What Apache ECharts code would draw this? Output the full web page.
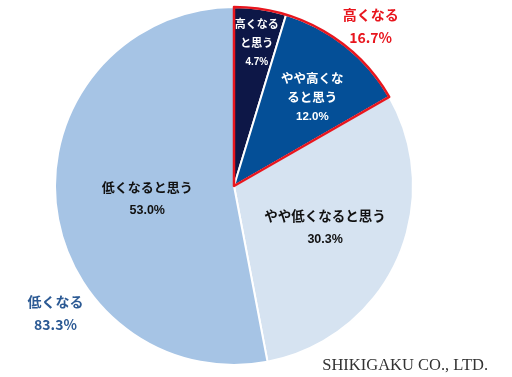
<!DOCTYPE html>
<html><head><meta charset="utf-8">
<script src="https://cdn.jsdelivr.net/npm/echarts@6/dist/echarts.min.js"></script>
<style>html,body{margin:0;padding:0;background:#fff}#c{width:512px;height:377px}</style>
</head><body><div id="c"></div>
<script>
// Data
const categories = ['高くなると思う', 'やや高くなると思う', 'やや低くなると思う', '低くなると思う'];
const labelNames = ['高くなる\nと思う', 'やや高くな\nると思う', 'やや低くなると思う', '低くなると思う'];
const values = [4.7, 12.0, 30.3, 53.0];
const groupNames = ['高くなる', '低くなる'];
const groupValues = [16.7, 83.3];

// Style
const sliceColors = ['#0d1747', '#044f97', '#d6e3f1', '#a6c4e5'];
const labelColors = ['#ffffff', '#ffffff', '#111111', '#111111'];
const labelRadiusFrac = [0.81, 0.66, 0.56, 0.49];
const labelAngleShift = [0.6, 3, 0, -3];
const labelLineHeights = [19, 19.5, 24, 23];
const nameSizes = [11, 12.5, 13.5, 13];
const pctSizes = [10, 11.5, 12.5, 12.5];
const groupColors = ['#e8161e', '#2c5a94'];
const groupLabelPolar = [[40.6, 210], [234.6, 219]];
const CX = 234, CY = 186, R = 179;

function midAngles(vals) {
  const tot = vals.reduce((a, b) => a + b, 0);
  let acc = 0;
  return vals.map(v => { const m = (acc + v / 2) / tot * 360; acc += v; return m; });
}
const mids = midAngles(values);

const chart = echarts.init(document.getElementById('c'));
chart.setOption({
  animation: false,
  backgroundColor: '#fff',
  title: {
    text: 'SHIKIGAKU CO., LTD.',
    right: 24, bottom: 3, padding: 0,
    textStyle: { fontFamily: 'Liberation Serif, DejaVu Serif, serif', fontWeight: 'normal', fontSize: 16.5, color: '#333' }
  },
  series: [
    {
      type: 'pie',
      center: [CX, CY], radius: [0, R],
      startAngle: 90, clockwise: true,
      emphasis: { disabled: true },
      itemStyle: { borderColor: '#fff', borderWidth: 2 },
      data: categories.map((c, i) => ({
        name: c, value: values[i],
        itemStyle: { color: sliceColors[i] },
        label: {
          show: true, position: 'inside',
          formatter: labelNames[i] + '\n{p|' + values[i].toFixed(1) + '%}',
          color: labelColors[i], fontSize: nameSizes[i], fontWeight: 'bold', lineHeight: labelLineHeights[i],
          fontFamily: 'Noto Sans CJK JP, sans-serif', align: 'center', verticalAlign: 'middle',
          rich: { p: { fontSize: pctSizes[i], fontWeight: 'bold', color: labelColors[i], fontFamily: 'Liberation Sans, Arial, sans-serif', lineHeight: labelLineHeights[i] } }
        }
      })),
      labelLine: { show: false },
      labelLayout: function (p) {
        const i = p.dataIndex;
        const a = (mids[i] + labelAngleShift[i]) * Math.PI / 180;
        const r = R * labelRadiusFrac[i];
        return { x: CX + r * Math.sin(a), y: CY - r * Math.cos(a), align: 'center', verticalAlign: 'middle' };
      }
    },
    {
      type: 'pie',
      center: [CX, CY], radius: [0, R],
      startAngle: 90, clockwise: true,
      emphasis: { disabled: true },
      silent: true, z: 5,
      data: groupNames.map((g, i) => ({
        name: g, value: groupValues[i],
        itemStyle: i === 0 ? { color: 'rgba(0,0,0,0)', borderColor: '#e8161e', borderWidth: 2.5 } : { color: 'rgba(0,0,0,0)', borderWidth: 0 },
        label: {
          show: true, position: 'outside',
          formatter: g + '\n' + groupValues[i].toFixed(1) + '%',
          color: groupColors[i], fontSize: 14, fontWeight: 'bold', lineHeight: 23,
          fontFamily: 'Noto Sans CJK JP, Liberation Sans, sans-serif', align: 'center'
        }
      })),
      labelLine: { show: false },
      labelLayout: function (p) {
        const pol = groupLabelPolar[p.dataIndex];
        const a = pol[0] * Math.PI / 180;
        return { x: CX + pol[1] * Math.sin(a), y: CY - pol[1] * Math.cos(a), align: 'center', verticalAlign: 'middle' };
      }
    }
  ]
});
</script>
</body></html>
